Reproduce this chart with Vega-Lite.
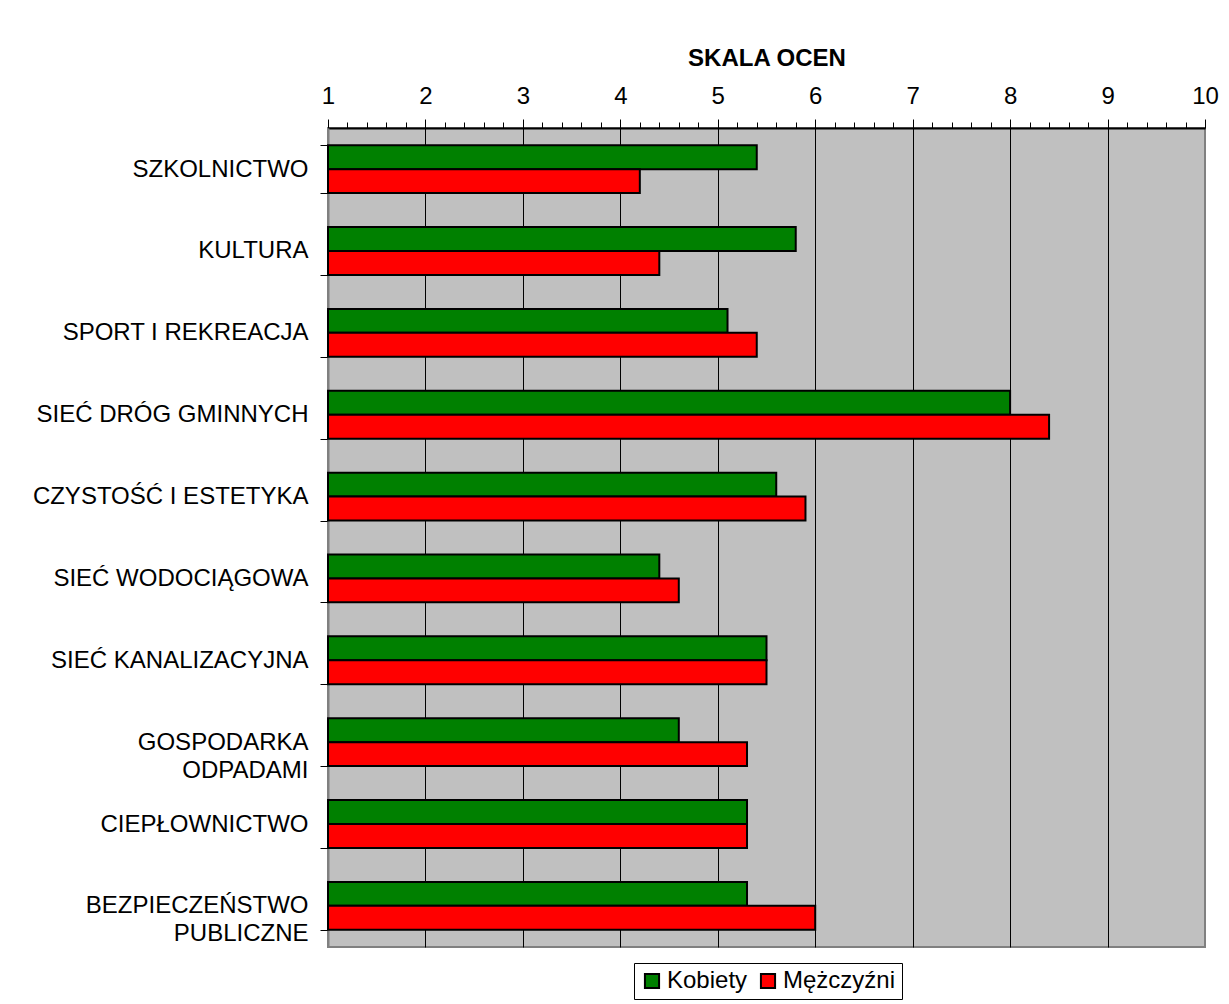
{
  "$schema": "https://vega.github.io/schema/vega-lite/v6.json",
  "autosize": "none",
  "padding": {"left": 328, "top": 128, "right": 24, "bottom": 57},
  "width": 877,
  "height": 819,
  "background": "white",
  "config": {
    "font": "Liberation Sans",
    "view": {"fill": "#C0C0C0", "stroke": "#808080", "strokeWidth": 2}
  },
  "data": {
    "values": [
      {"cat": "SZKOLNICTWO", "plec": "Kobiety", "ocena": 5.4},
      {"cat": "SZKOLNICTWO", "plec": "Mężczyźni", "ocena": 4.2},
      {"cat": "KULTURA ", "plec": "Kobiety", "ocena": 5.8},
      {"cat": "KULTURA ", "plec": "Mężczyźni", "ocena": 4.4},
      {"cat": "SPORT I REKREACJA", "plec": "Kobiety", "ocena": 5.1},
      {"cat": "SPORT I REKREACJA", "plec": "Mężczyźni", "ocena": 5.4},
      {"cat": "SIEĆ DRÓG GMINNYCH", "plec": "Kobiety", "ocena": 8.0},
      {"cat": "SIEĆ DRÓG GMINNYCH", "plec": "Mężczyźni", "ocena": 8.4},
      {"cat": "CZYSTOŚĆ I ESTETYKA", "plec": "Kobiety", "ocena": 5.6},
      {"cat": "CZYSTOŚĆ I ESTETYKA", "plec": "Mężczyźni", "ocena": 5.9},
      {"cat": "SIEĆ WODOCIĄGOWA", "plec": "Kobiety", "ocena": 4.4},
      {"cat": "SIEĆ WODOCIĄGOWA", "plec": "Mężczyźni", "ocena": 4.6},
      {"cat": "SIEĆ KANALIZACYJNA", "plec": "Kobiety", "ocena": 5.5},
      {"cat": "SIEĆ KANALIZACYJNA", "plec": "Mężczyźni", "ocena": 5.5},
      {"cat": "GOSPODARKA ODPADAMI", "plec": "Kobiety", "ocena": 4.6},
      {"cat": "GOSPODARKA ODPADAMI", "plec": "Mężczyźni", "ocena": 5.3},
      {"cat": "CIEPŁOWNICTWO", "plec": "Kobiety", "ocena": 5.3},
      {"cat": "CIEPŁOWNICTWO", "plec": "Mężczyźni", "ocena": 5.3},
      {"cat": "BEZPIECZEŃSTWO PUBLICZNE", "plec": "Kobiety", "ocena": 5.3},
      {"cat": "BEZPIECZEŃSTWO PUBLICZNE", "plec": "Mężczyźni", "ocena": 6.0}
    ]
  },
  "mark": {"type": "bar", "stroke": "black", "strokeWidth": 2},
  "encoding": {
    "y": {
      "field": "cat",
      "type": "nominal",
      "sort": null,
      "scale": {"paddingInner": 0.415, "paddingOuter": 0.21},
      "axis": {
        "title": null,
        "tickBand": "extent",
        "tickSize": 8,
        "tickColor": "black",
        "tickWidth": 1,
        "domainColor": "#808080",
        "domainWidth": 2,
        "labelFontSize": 24,
        "labelColor": "black",
        "labelPadding": 12,
        "labelLimit": 0,
        "labelLineHeight": 28,
        "labelExpr": "datum.value == 'GOSPODARKA ODPADAMI' ? ['GOSPODARKA', 'ODPADAMI'] : datum.value == 'BEZPIECZEŃSTWO PUBLICZNE' ? ['BEZPIECZEŃSTWO', 'PUBLICZNE'] : datum.label"
      }
    },
    "yOffset": {
      "field": "plec",
      "type": "nominal",
      "sort": ["Kobiety", "Mężczyźni"],
      "scale": {"paddingInner": 0, "paddingOuter": 0}
    },
    "x": {
      "field": "ocena",
      "type": "quantitative",
      "scale": {"domain": [1, 10], "nice": false, "zero": false},
      "axis": {
        "orient": "top",
        "title": "SKALA OCEN",
        "titleFontSize": 24,
        "titleFontWeight": "bold",
        "titleColor": "black",
        "titlePadding": 14,
        "values": [1, 1.2, 1.4, 1.6, 1.8, 2, 2.2, 2.4, 2.6, 2.8, 3, 3.2, 3.4, 3.6, 3.8, 4, 4.2, 4.4, 4.6, 4.8, 5, 5.2, 5.4, 5.6, 5.8, 6, 6.2, 6.4, 6.6, 6.8, 7, 7.2, 7.4, 7.6, 7.8, 8, 8.2, 8.4, 8.6, 8.8, 9, 9.2, 9.4, 9.6, 9.8, 10],
        "labelExpr": "datum.value % 1 === 0 ? format(datum.value, 'd') : ''",
        "labelOverlap": false,
        "labelFlush": false,
        "labelFontSize": 24,
        "labelColor": "black",
        "labelPadding": 11,
        "grid": true,
        "gridColor": "black",
        "gridWidth": 1,
        "gridOpacity": {"condition": {"test": "datum.value % 1 === 0 && datum.value > 1 && datum.value < 10", "value": 1}, "value": 0},
        "tickSize": {"condition": {"test": "datum.value % 1 === 0", "value": 9}, "value": 6},
        "tickColor": "black",
        "tickWidth": 1,
        "domainColor": "black",
        "domainWidth": 2
      }
    },
    "x2": {"datum": 1},
    "color": {
      "field": "plec",
      "type": "nominal",
      "sort": ["Kobiety", "Mężczyźni"],
      "scale": {"domain": ["Kobiety", "Mężczyźni"], "range": ["#008000", "#FF0000"]},
      "legend": {
        "title": null,
        "orient": "none",
        "legendX": 306,
        "legendY": 835,
        "direction": "horizontal",
        "strokeColor": "black",
        "fillColor": "white",
        "padding": 6,
        "labelFontSize": 24,
        "labelColor": "black",
        "labelOffset": 3,
        "columnPadding": 8,
        "symbolType": "square",
        "symbolSize": 200,
        "symbolStrokeColor": "black",
        "symbolStrokeWidth": 2,
        "symbolOpacity": 1
      }
    }
  }
}
